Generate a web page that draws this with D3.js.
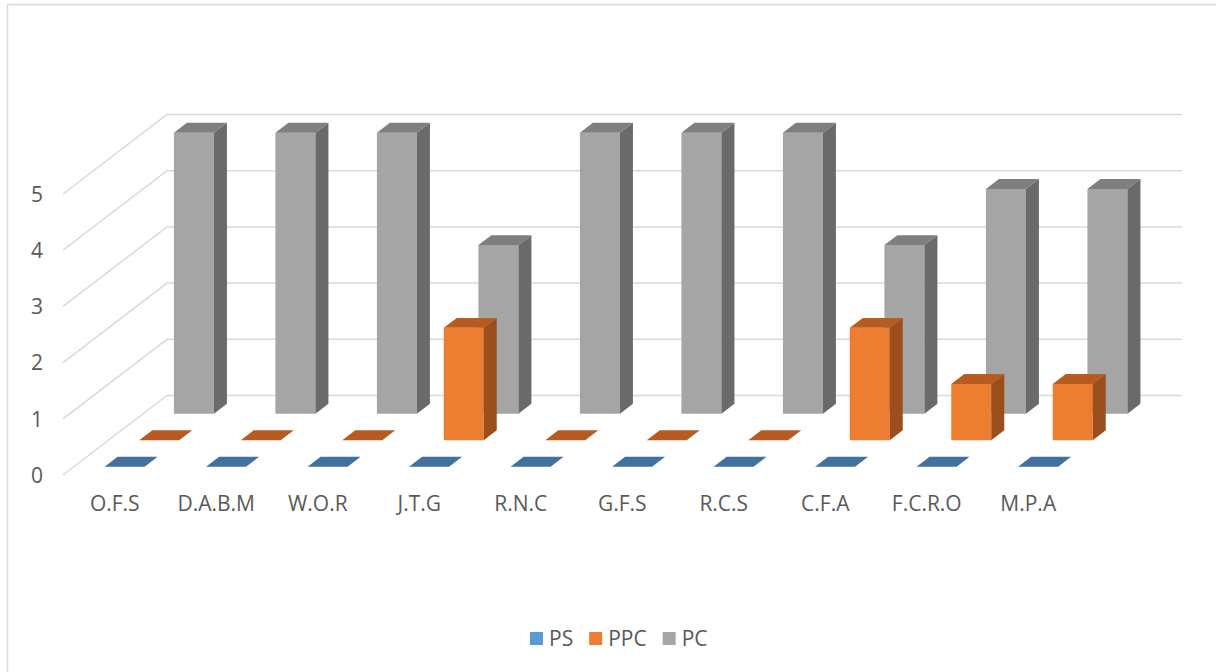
<!DOCTYPE html>
<html>
<head>
  <meta charset="utf-8">
  <style>
    body { margin: 0; background: #fff; }
    svg { display: block; font-family: "Open Sans", sans-serif; }
    .axis text { fill: #595959; font-size: 21px; }
  </style>
</head>
<body>
  <div id="chart"></div>
  <script src="https://d3js.org/d3.v7.min.js"></script>
  <script>
    // data
    var categories = ['O.F.S', 'D.A.B.M', 'W.O.R', 'J.T.G', 'R.N.C', 'G.F.S', 'R.C.S', 'C.F.A', 'F.C.R.O', 'M.P.A'];
    var seriesNames = ['PS', 'PPC', 'PC'];
    var psValues  = [0, 0, 0, 0, 0, 0, 0, 0, 0, 0];
    var ppcValues = [0, 0, 0, 2, 0, 0, 0, 2, 1, 1];
    var pcValues  = [5, 5, 5, 3, 5, 5, 5, 3, 4, 4];
    var yTicks = [0, 1, 2, 3, 4, 5];

    var seriesValues = { PS: psValues, PPC: ppcValues, PC: pcValues };
    var colors = {
      PS:  { front: '#5B9BD5', side: '#35709F', top: '#41719C' },
      PPC: { front: '#ED7D31', side: '#9C4F1D', top: '#B65C23' },
      PC:  { front: '#A5A5A5', side: '#6A6A6A', top: '#7F7F7F' }
    };

    var W = 1216, H = 672;
    // oblique depth offset from floor front to back wall
    var DX = 104, DY = 79.5;

    var svg = d3.select('#chart').append('svg')
        .attr('width', W).attr('height', H);

    // chart frame
    svg.append('rect')
        .attr('x', 7.5).attr('y', 4.5)
        .attr('width', 1240).attr('height', 700)
        .attr('fill', 'none').attr('stroke', '#D9D9D9').attr('stroke-width', 1.5);

    var x = d3.scaleBand().domain(categories).range([63, 1078]);
    var y = d3.scaleLinear().domain([0, 5]).range([475, 194]);
    // depth rows: PS front, PC back
    var z = d3.scaleBand().domain(seriesNames).range([0, 1]);
    var barW = 40, barD = 0.125;

    function proj(px, v, d) {
      return [px + d * DX, y(v) - d * DY];
    }

    // gridlines: side wall diagonals + back wall
    var grid = svg.append('g').attr('stroke', '#D9D9D9').attr('stroke-width', 1.5).attr('fill', 'none');
    yTicks.forEach(function (t) {
      var a = proj(63, t, 0), b = proj(63, t, 1), c = proj(1078, t, 1);
      grid.append('path').attr('d', d3.line()([a, b, c]));
    });

    // bars, back row first
    var rows = seriesNames.slice().reverse();
    var barsG = svg.append('g');
    rows.forEach(function (s) {
      var d0 = z(s) + z.bandwidth() / 2 - barD / 2, d1 = d0 + barD;
      var col = colors[s];
      seriesValues[s].forEach(function (v, i) {
        var x0 = x(categories[i]) + (x.bandwidth() - barW) / 2, x1 = x0 + barW;
        var g = barsG.append('g');
        if (v > 0) {
          g.append('path').attr('fill', col.front)
              .attr('d', d3.line()([proj(x0, 0, d0), proj(x1, 0, d0), proj(x1, v, d0), proj(x0, v, d0)]) + 'Z');
          g.append('path').attr('fill', col.side)
              .attr('d', d3.line()([proj(x1, 0, d0), proj(x1, 0, d1), proj(x1, v, d1), proj(x1, v, d0)]) + 'Z');
        }
        g.append('path').attr('fill', col.top)
            .attr('d', d3.line()([proj(x0, v, d0), proj(x1, v, d0), proj(x1, v, d1), proj(x0, v, d1)]) + 'Z');
      });
    });

    // value axis labels
    svg.append('g').attr('class', 'axis')
        .attr('transform', 'translate(43,0)')
        .call(d3.axisLeft(y).tickValues(yTicks).tickSize(0).tickPadding(0).tickFormat(d3.format('d')))
        .call(function (g) { g.select('.domain').remove(); })
        .selectAll('text').style('font-family', '"Open Sans", sans-serif').attr('dy', '0.35em');

    // category labels
    svg.append('g').attr('class', 'axis')
        .attr('transform', 'translate(1,495)')
        .call(d3.axisBottom(x).tickSize(0).tickPadding(0))
        .call(function (g) { g.select('.domain').remove(); })
        .selectAll('text').style('font-family', '"Open Sans", sans-serif').attr('dy', '0.75em');

    // legend
    var legend = svg.append('g').attr('class', 'axis');
    var lx = 530;
    seriesNames.forEach(function (s) {
      legend.append('rect').attr('x', lx).attr('y', 632).attr('width', 13).attr('height', 13)
          .attr('fill', colors[s].front);
      var t = legend.append('text').attr('x', lx + 19).attr('y', 646).text(s)
          .style('font-family', '"Open Sans", sans-serif');
      lx += 19 + t.node().getComputedTextLength() + 16;
    });
  </script>
</body>
</html>
